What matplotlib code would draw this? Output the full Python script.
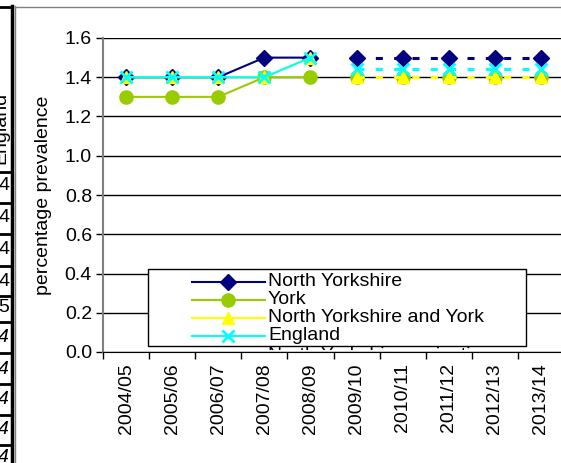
import matplotlib.pyplot as plt
import matplotlib.lines as mlines
import matplotlib.patches as mpatches
from matplotlib.transforms import Bbox, TransformedBbox
import numpy as np

plt.rcParams['font.family'] = ['Liberation Sans', 'DejaVu Sans']

years = ['2004/05', '2005/06', '2006/07', '2007/08', '2008/09',
         '2009/10', '2010/11', '2011/12', '2012/13', '2013/14']

# recorded values (first five years)
north_yorkshire = [1.4, 1.4, 1.4, 1.5, 1.5]
york = [1.3, 1.3, 1.3, 1.4, 1.4]
ny_and_york = [1.4, 1.4, 1.4, 1.4, 1.5]
england = [1.4, 1.4, 1.4, 1.4, 1.5]

# projections (last five years)
north_yorkshire_proj = [1.5, 1.5, 1.5, 1.5, 1.5]
york_proj = [1.4, 1.4, 1.4, 1.4, 1.4]
ny_and_york_proj = [1.4, 1.4, 1.4, 1.4, 1.4]
england_proj = [1.44, 1.44, 1.44, 1.44, 1.44]

# partial table cut off at the left edge
table_values = ['4', '4', '4', '4', '5', '4', '4', '4', '4', '4']

FS = 14
W, H = 561, 463
fig = plt.figure(figsize=(W / 100, H / 100), dpi=100)


def fx(px):
    return px / W


def fy(py):
    return 1 - py / H


ax = fig.add_axes([fx(103), fy(352), fx(564) - fx(103), fy(38) - fy(352)])

x_hist = np.arange(0, 5)
x_proj = np.arange(5, 10)

navy = '#000080'
green = '#99CC00'
yellow = '#FFFF00'
cyan = '#00FFFF'

styles = [
    ('North Yorkshire', north_yorkshire, north_yorkshire_proj, navy,
     dict(marker='D', ms=8.5)),
    ('York', york, york_proj, green, dict(marker='o', ms=9.5)),
    ('North Yorkshire and York', ny_and_york, ny_and_york_proj, yellow,
     dict(marker='^', ms=8)),
    ('England', england, england_proj, cyan,
     dict(marker='x', ms=8.5, mew=2)),
]

for name, vals, proj, col, mk in styles:
    ax.plot(x_hist, vals, color=col, lw=1.5, mfc=col, mec=col, zorder=3, **mk)
for name, vals, proj, col, mk in styles:
    ax.plot(x_proj, proj, color=col, lw=2.2, ls=(0, (2.3, 3.7)),
            mfc=col, mec=col, zorder=3, **mk)

ax.set_xlim(-0.5, 9.5)
ax.set_ylim(0, 1.6)
ax.set_yticks(np.arange(0, 1.61, 0.2))
ax.set_yticklabels(['%.1f' % v for v in np.arange(0, 1.61, 0.2)], fontsize=FS)
ax.yaxis.grid(True, color='black', lw=1)
ax.set_axisbelow(True)

ax.set_xticks(np.arange(-0.5, 10, 1))
ax.set_xticklabels([])
ax.set_xticks(np.arange(10), minor=True)
ax.set_xticklabels(years, minor=True, rotation=90, fontsize=FS)
ax.tick_params(axis='x', which='minor', length=0, pad=8)
ax.tick_params(axis='x', which='major', length=5, width=1, color='black')
ax.tick_params(axis='y', length=5, width=1, color='black', pad=3)

for s in ['top', 'right']:
    ax.spines[s].set_visible(False)
ax.spines['bottom'].set_color('black')
ax.spines['left'].set_color('#808080')
ax.spines['left'].set_linewidth(1.5)

ax.set_ylabel('percentage prevalence', fontsize=FS, labelpad=9)

# legend box drawn by hand to match the squeezed original
box = mpatches.Rectangle((fx(148), fy(346)), fx(526) - fx(148), fy(269) - fy(346),
                         transform=fig.transFigure, facecolor='white',
                         edgecolor='black', lw=1, zorder=5)
fig.add_artist(box)

clip = TransformedBbox(Bbox([[fx(148), fy(350)], [fx(526), fy(269)]]),
                       fig.transFigure)
entries = [(s[0], s[3], s[4]) for s in styles]
entries.append(('North Yorkshire projection', navy, dict(marker='D', ms=5)))
for i, (name, col, mk) in enumerate(entries):
    yy = fy(282 + 18 * i + (2 if i == 4 else 0))
    ln = mlines.Line2D([fx(192), fx(265)], [yy, yy], color=col, lw=1.5,
                       transform=fig.transFigure, zorder=6)
    ln.set_clip_box(clip)
    fig.add_artist(ln)
    mline = mlines.Line2D([fx(228)], [yy], color=col, mfc=col, mec=col,
                          transform=fig.transFigure, zorder=6, **mk)
    mline.set_clip_box(clip)
    fig.add_artist(mline)
    t = fig.text(fx(268), yy, name, fontsize=FS, va='center', ha='left',
                 zorder=6, clip_on=True)
    t.set_clip_box(clip)

# chart frame and the table fragment on the left
fig.add_artist(mlines.Line2D([fx(15), fx(15)], [fy(6), 0], color='#808080',
                             lw=1, transform=fig.transFigure))
fig.add_artist(mlines.Line2D([fx(15), 1], [fy(6.5), fy(6.5)], color='#808080',
                             lw=1, transform=fig.transFigure))
fig.add_artist(mlines.Line2D([fx(11.5), fx(11.5)], [fy(6), 0], color='black',
                             lw=2.5, transform=fig.transFigure))
fig.add_artist(mlines.Line2D([0, fx(12)], [fy(6.5), fy(6.5)], color='black',
                             lw=2, transform=fig.transFigure))
row_lines = [172, 203, 234, 266, 296, 322, 353, 384, 415, 445]
row_mid = [186, 218, 250, 281, 308, 338, 369, 400, 430, 458]
for ry in row_lines:
    fig.add_artist(mlines.Line2D([0, fx(12)], [fy(ry), fy(ry)], color='black',
                                 lw=2, transform=fig.transFigure))
for i, (ry, val) in enumerate(zip(row_mid, table_values)):
    fig.text(fx(9), fy(ry), val, fontsize=FS, ha='right', va='center',
             fontstyle='italic' if i >= 5 else 'normal')
fig.text(fx(9), fy(128), 'England', fontsize=FS, rotation=90,
         ha='right', va='center')

fig.savefig('out.png', dpi=100)
